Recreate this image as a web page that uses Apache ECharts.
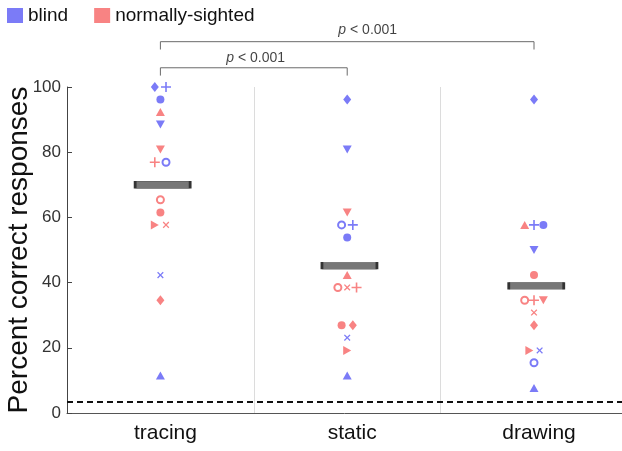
<!DOCTYPE html>
<html>
<head>
<meta charset="utf-8">
<script src="https://cdn.jsdelivr.net/npm/echarts@6/dist/echarts.min.js"></script>
<style>
  html, body { margin: 0; padding: 0; background: #fff; }
  #chart { width: 622px; height: 451px; }
</style>
</head>
<body>
<div id="chart"></div>
<script>
// tasks on the x axis
var tasks = ['tracing', 'static', 'drawing'];

// blind participants: one marker shape each, scores per task
var blindShapes = ['diamond', 'plus', 'circle', 'triDown', 'openCircle', 'x', 'triUp'];
var blindTracing = [100, 100, 96.2, 88.5, 76.9, 42.3, 11.5];
var blindStatic = [96.2, 57.7, 53.8, 80.8, 57.7, 23.1, 11.5];
var blindDrawing = [96.2, 57.7, 57.7, 50.0, 15.4, 19.2, 7.7];
// sideways jitter (in category units) where markers share a row
var blindTracingJit = [-0.03, 0.03, 0, 0, 0.03, 0, 0];
var blindStaticJit = [0, 0.03, 0, 0, -0.03, 0, 0];
var blindDrawingJit = [0, 0, 0.05, 0, 0, 0.03, 0];

// normally-sighted participants
var sightedShapes = ['triUp', 'triDown', 'plus', 'openCircle', 'circle', 'triRight', 'x', 'diamond'];
var sightedTracing = [92.3, 80.8, 76.9, 65.4, 61.5, 57.7, 57.7, 34.6];
var sightedStatic = [42.3, 61.5, 38.5, 38.5, 26.9, 19.2, 38.5, 26.9];
var sightedDrawing = [57.7, 34.6, 34.6, 34.6, 42.3, 19.2, 30.8, 26.9];
var sightedTracingJit = [0, 0, -0.03, 0, 0, -0.03, 0.03, 0];
var sightedStaticJit = [0, 0, 0.05, -0.05, -0.03, 0, 0, 0.03];
var sightedDrawingJit = [-0.05, 0.05, 0, -0.05, 0, -0.025, 0, 0];

// group means
var meanScores = [70.0, 45.2, 39.0];

// chance level
var chance = 3.3;

// significance brackets: [from task, to task, height]
var brackets = [[1, 3, 113.9], [1, 2, 105.9]];
var bracketLabels = ['p < 0.001', 'p < 0.001'];
var bracketLabelX = [2.11, 1.51];

var BLUE = '#7b7bf7';
var RED = '#f88383';
var PLUS = 'path://M4.2,0H5.8V4.2H10V5.8H5.8V10H4.2V5.8H0V4.2H4.2Z';

var SHAPES = {
  diamond: { symbol: 'diamond', size: [8, 10] },
  plus: { symbol: PLUS, size: 10 },
  circle: { symbol: 'circle', size: 8 },
  openCircle: { symbol: 'emptyCircle', size: 7 },
  triUp: { symbol: 'triangle', size: [9, 8] },
  triDown: { symbol: 'triangle', size: [9, 8], rotate: 180 },
  triRight: { symbol: 'triangle', size: [9, 8], rotate: -90 },
  x: { symbol: PLUS, size: 8, rotate: 45 }
};

function buildPoints(shapes, scores, jitters, color) {
  var out = [];
  for (var t = 0; t < scores.length; t++) {
    for (var i = 0; i < shapes.length; i++) {
      var s = SHAPES[shapes[i]];
      var item = {
        value: [t + 1 + jitters[t][i], scores[t][i]],
        symbol: s.symbol,
        symbolSize: s.size,
        symbolRotate: s.rotate || 0
      };
      if (shapes[i] === 'openCircle') {
        item.itemStyle = { color: color, borderColor: color, borderWidth: 1.4, opacity: 1 };
      }
      out.push(item);
    }
  }
  return out;
}

var blindData = buildPoints(blindShapes,
  [blindTracing, blindStatic, blindDrawing],
  [blindTracingJit, blindStaticJit, blindDrawingJit], BLUE);
var sightedData = buildPoints(sightedShapes,
  [sightedTracing, sightedStatic, sightedDrawing],
  [sightedTracingJit, sightedStaticJit, sightedDrawingJit], RED);

var meanData = meanScores.map(function (v, i) { return [i + 1.012, v]; });

var bracketSeries = brackets.map(function (b) {
  return {
    type: 'line',
    silent: true,
    clip: false,
    symbol: 'none',
    z: 1,
    lineStyle: { color: '#6b6b6b', width: 1 },
    data: [[b[0], b[2] - 2.4], [b[0], b[2]], [b[1], b[2]], [b[1], b[2] - 2.4]]
  };
});

var labelData = brackets.map(function (b, i) {
  return { value: [bracketLabelX[i], b[2] + (i === 0 ? 3.6 : 2.9)], text: bracketLabels[i] };
});

var myChart = echarts.init(document.getElementById('chart'));
var option = {
  animation: false,
  textStyle: { fontFamily: 'Liberation Sans, Arial, sans-serif' },
  legend: {
    data: ['blind', 'normally-sighted'],
    icon: 'rect',
    itemWidth: 16,
    itemHeight: 15,
    itemGap: 26,
    left: 2,
    top: 1,
    textStyle: { fontSize: 19, color: '#111' }
  },
  grid: { left: 67, right: 0, top: 87, bottom: 38, containLabel: false, outerBoundsMode: 'none' },
  xAxis: {
    type: 'value',
    min: 0.5,
    max: 3.471,
    interval: 0.5,
    axisLine: { lineStyle: { color: '#555', width: 1 } },
    axisTick: { show: false },
    splitLine: { show: false },
    axisLabel: {
      fontSize: 21,
      color: '#111',
      margin: 10,
      padding: [0, 0, 0, 10],
      showMaxLabel: false,
      formatter: function (v) {
        return Number.isInteger(v) ? tasks[v - 1] : '';
      }
    }
  },
  yAxis: {
    type: 'value',
    min: 0,
    max: 100,
    interval: 20,
    name: 'Percent correct responses',
    nameLocation: 'middle',
    nameMoveOverlap: false,
    nameGap: 34,
    nameTextStyle: { fontSize: 28, color: '#111' },
    axisLine: { show: true, lineStyle: { color: '#444' } },
    axisTick: { show: true, inside: true, length: 5, lineStyle: { color: '#444' } },
    axisLabel: { fontSize: 17, color: '#333', margin: 6 },
    splitLine: { show: false }
  },
  series: [
    {
      name: 'mean',
      type: 'scatter',
      symbol: 'rect',
      symbolSize: [55, 7],
      z: 2,
      itemStyle: { color: '#777', borderColor: '#333', borderWidth: 1, opacity: 1 },
      data: meanData,
      markLine: {
        silent: true,
        symbol: ['none', 'none'],
        label: { show: false },
        data: [
          { xAxis: 1.5, lineStyle: { color: '#dcdcdc', width: 1, type: 'solid' } },
          { xAxis: 2.5, lineStyle: { color: '#dcdcdc', width: 1, type: 'solid' } },
          { yAxis: chance, lineStyle: { color: '#111', width: 2, type: [6, 4] } }
        ]
      }
    },
    {
      name: 'blind',
      type: 'scatter',
      z: 3,
      itemStyle: { color: BLUE, opacity: 1 },
      data: blindData
    },
    {
      name: 'normally-sighted',
      type: 'scatter',
      z: 3,
      itemStyle: { color: RED, opacity: 1 },
      data: sightedData
    }
  ].concat(bracketSeries).concat([
    {
      type: 'scatter',
      silent: true,
      clip: false,
      symbolSize: 1,
      itemStyle: { color: 'rgba(0,0,0,0)' },
      label: {
        show: true,
        position: 'inside',
        fontSize: 14,
        color: '#111',
        formatter: function (p) {
          return p.data.text.replace(/^p/, '{i|p}');
        },
        rich: { i: { fontStyle: 'italic', fontSize: 14, color: '#111' } }
      },
      data: labelData
    }
  ])
};
option && myChart.setOption(option);
</script>
</body>
</html>
